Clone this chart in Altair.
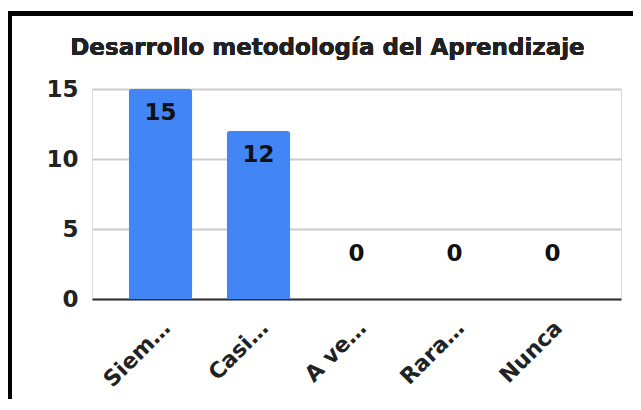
import altair as alt
import pandas as pd

categories = ["Siempre", "Casi siempre", "A veces", "Raramente", "Nunca"]
values = [15, 12, 0, 0, 0]
title_text = "Desarrollo metodología del Aprendizaje"

df = pd.DataFrame({"cat": categories, "val": values})

FONT = "DejaVu Sans"
BLUE = "#4285F4"

x_enc = alt.X(
    "cat:N", sort=categories, title=None,
    scale=alt.Scale(paddingInner=0.35, paddingOuter=0.374),
    axis=alt.Axis(
        labelAngle=-45, labelAlign="right", labelBaseline="middle",
        labelExpr="length(datum.label) > 5 ? substring(datum.label, 0, 4) + '…' : datum.label",
        labelFontSize=22, labelFont=FONT, labelFontWeight="bold", labelColor="#222",
        labelPadding=25, labelOffset=6, ticks=False, domain=True, domainColor="#333",
        domainWidth=2, grid=False, labelLimit=200,
    ),
)
y_enc = alt.Y(
    "val:Q", title=None,
    scale=alt.Scale(domain=[0, 15], nice=False),
    axis=alt.Axis(
        values=[0, 5, 10, 15], labelFontSize=23, labelFont=FONT, labelFontWeight="bold",
        labelColor="#222", labelPadding=14, ticks=False, domain=False,
        gridColor="#cccccc", gridWidth=2,
    ),
)

base = alt.Chart(df)

bars = base.mark_bar(color=BLUE, cornerRadiusTopLeft=3, cornerRadiusTopRight=3).encode(
    x=x_enc, y=y_enc
)

labels_pos = base.transform_filter("datum.val > 0").mark_text(
    font=FONT, fontSize=23, fontWeight="bold", color="#111", baseline="middle", dy=24
).encode(x=alt.X("cat:N", sort=categories), y="val:Q", text="val:Q")

labels_zero = base.transform_filter("datum.val == 0").mark_text(
    font=FONT, fontSize=23, fontWeight="bold", color="#111", baseline="middle", dy=-45
).encode(x=alt.X("cat:N", sort=categories), y="val:Q", text="val:Q")

title = base.mark_text(
    font=FONT, fontSize=23, fontWeight="bold", color="#222", align="center",
    baseline="alphabetic",
).encode(x=alt.value(235.5), y=alt.value(-34), text=alt.value(title_text))

border_left = base.mark_rule(color="black", strokeWidth=5).encode(
    x=alt.value(-82.5), y=alt.value(-78), y2=alt.value(330)
)
border_top = base.mark_rule(color="black", strokeWidth=5).encode(
    x=alt.value(-85), x2=alt.value(560), y=alt.value(-75.5)
)

chart = alt.layer(bars, labels_pos, labels_zero, title, border_left, border_top).properties(
    width=529, height=210,
    autosize=alt.AutoSizeParams(type="none"),
    padding={"left": 84, "top": 81, "right": 12, "bottom": 100},
).configure_view(stroke=None).configure(background="white")

chart.save("out.html", embed_options={"renderer": "svg", "actions": False})
